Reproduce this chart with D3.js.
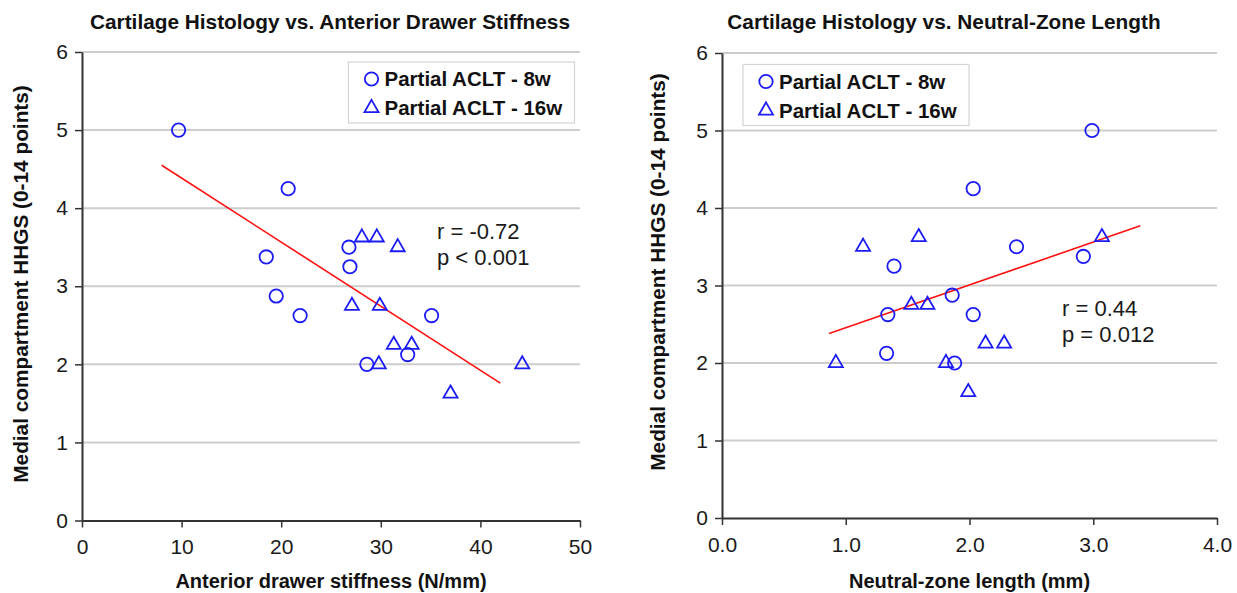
<!DOCTYPE html>
<html>
<head>
<meta charset="utf-8">
<script src="https://cdnjs.cloudflare.com/ajax/libs/d3/7.8.5/d3.min.js"></script>
<style>
  body { margin: 0; background: white; }
  text { font-family: "Liberation Sans", Arial, sans-serif; }
</style>
</head>
<body>
<div id="container"></div>
<script>
// left panel: anterior drawer stiffness (N/mm) vs HHGS
var stiff8w = [9.7, 20.7, 18.5, 26.8, 26.9, 19.5, 21.9, 35.1, 28.6, 32.7];
var hhgsStiff8w = [5.0, 4.25, 3.375, 3.5, 3.25, 2.875, 2.625, 2.625, 2.0, 2.125];
var stiff16w = [28.1, 29.6, 31.7, 27.1, 29.9, 31.3, 33.1, 29.8, 44.2, 37.0];
var hhgsStiff16w = [3.625, 3.625, 3.5, 2.75, 2.75, 2.25, 2.25, 2.0, 2.0, 1.625];
var stiffFitX = [8.0, 42.0];
var stiffFitY = [4.55, 1.76];

// right panel: neutral-zone length (mm) vs HHGS
var nz8w = [1.39, 1.34, 1.33, 1.86, 1.88, 2.99, 2.03, 2.38, 2.92, 2.03];
var hhgsNz8w = [3.25, 2.625, 2.125, 2.875, 2.0, 5.0, 4.25, 3.5, 3.375, 2.625];
var nz16w = [0.92, 1.14, 1.59, 1.53, 1.66, 1.81, 1.99, 3.07, 2.13, 2.28];
var hhgsNz16w = [2.0, 3.5, 3.625, 2.75, 2.75, 2.0, 1.625, 3.625, 2.25, 2.25];
var nzFitX = [0.865, 3.38];
var nzFitY = [2.38, 3.77];

var yTicks = [0, 1, 2, 3, 4, 5, 6];
var stiffTicks = [0, 10, 20, 30, 40, 50];
var nzTicks = [0, 1, 2, 3, 4];
var seriesNames = ['Partial ACLT - 8w', 'Partial ACLT - 16w'];
var yTitle = 'Medial compartment HHGS (0-14 points)';

var svgWidth = 1237,
    svgHeight = 593,
    blue = '#1c1cf5',
    svg = d3.select('#container').append('svg')
      .attr('width', svgWidth).attr('height', svgHeight)
      .style('background-color', 'white');

function zip(xs, ys) {
  return xs.map(function(v, i) { return { x: v, y: ys[i] }; });
}

function drawPanel(p) {
  var x = d3.scaleLinear().domain(p.xDomain).range([p.left, p.right]);
  var y = d3.scaleLinear().domain([0, 6]).range([p.bottom, p.top]);
  var g = svg.append('g');

  // gridlines
  g.selectAll('.grid').data(yTicks.slice(1)).enter().append('line')
    .attr('x1', p.left).attr('x2', p.right)
    .attr('y1', function(d) { return y(d); }).attr('y2', function(d) { return y(d); })
    .attr('stroke', '#cdcdcd').attr('stroke-width', 2);

  var xAxis = g.append('g')
    .attr('transform', 'translate(0,' + p.bottom + ')')
    .call(d3.axisBottom(x).tickValues(p.xTicks).tickFormat(p.fmt).tickSize(7).tickSizeOuter(0).tickPadding(12));
  var yAxis = g.append('g')
    .attr('transform', 'translate(' + p.left + ',0)')
    .call(d3.axisLeft(y).tickValues(yTicks).tickFormat(d3.format('d')).tickSize(7).tickSizeOuter(0).tickPadding(7));

  [xAxis, yAxis].forEach(function(a) {
    a.select('.domain').attr('stroke', '#333').attr('stroke-width', 2);
    a.selectAll('.tick line').attr('stroke', '#333').attr('stroke-width', 1.5);
    a.selectAll('.tick text').attr('fill', '#1a1a1a').style('font-size', '21px')
      .style('font-family', '"Liberation Sans", Arial, sans-serif');
  });

  // regression line
  g.append('path')
    .datum(zip(p.fitX, p.fitY))
    .attr('fill', 'none')
    .attr('stroke', '#ff1010')
    .attr('stroke-width', 1.6)
    .attr('d', d3.line().x(function(d) { return x(d.x); }).y(function(d) { return y(d.y); }));

  g.selectAll('.c8').data(zip(p.x8, p.y8)).enter().append('circle')
    .attr('cx', function(d) { return x(d.x); })
    .attr('cy', function(d) { return y(d.y); })
    .attr('r', 6.7)
    .attr('fill', 'none').attr('stroke', blue).attr('stroke-width', 1.8);

  var tri = d3.symbol().type(d3.symbolTriangle).size(85);
  g.selectAll('.t16').data(zip(p.x16, p.y16)).enter().append('path')
    .attr('d', tri)
    .attr('transform', function(d) { return 'translate(' + x(d.x) + ',' + y(d.y) + ')'; })
    .attr('fill', 'none').attr('stroke', blue).attr('stroke-width', 1.8);

  // legend
  var lg = g.append('g').attr('transform', 'translate(' + p.legend[0] + ',' + p.legend[1] + ')');
  lg.append('rect').attr('width', 226).attr('height', 61)
    .attr('fill', 'white').attr('stroke', '#d4d4d4').attr('stroke-width', 1.2);
  lg.append('circle').attr('cx', 23).attr('cy', 17).attr('r', 6.7)
    .attr('fill', 'none').attr('stroke', blue).attr('stroke-width', 1.8);
  lg.append('path').attr('d', tri).attr('transform', 'translate(23,46)')
    .attr('fill', 'none').attr('stroke', blue).attr('stroke-width', 1.8);
  lg.selectAll('.lt').data(seriesNames).enter().append('text')
    .attr('x', 36).attr('y', function(d, i) { return 24 + i * 29; })
    .attr('font-weight', 'bold').attr('font-size', 20.5).attr('fill', '#111')
    .text(function(d) { return d; });

  // statistics
  g.selectAll('.st').data(p.stats).enter().append('text')
    .attr('x', p.statPos[0]).attr('y', function(d, i) { return p.statPos[1] + i * 26; })
    .attr('font-size', 22).attr('fill', '#1a1a1a')
    .text(function(d) { return d; });

  // titles
  g.append('text').attr('x', p.titleX).attr('y', 29)
    .attr('text-anchor', 'middle').attr('font-weight', 'bold').attr('font-size', 20.8).attr('fill', '#111')
    .text(p.title);
  g.append('text').attr('x', (p.left + p.right) / 2).attr('y', 588)
    .attr('text-anchor', 'middle').attr('font-weight', 'bold').attr('font-size', 20).attr('fill', '#111')
    .text(p.xTitle);
  g.append('text')
    .attr('transform', 'translate(' + p.yTitleX + ',' + p.yTitleY + ') rotate(-90)')
    .attr('text-anchor', 'middle').attr('font-weight', 'bold').attr('font-size', 20.8).attr('fill', '#111')
    .text(yTitle);
}

drawPanel({
  left: 82, right: 580, top: 52, bottom: 520.5,
  xDomain: [0, 50], xTicks: stiffTicks, fmt: d3.format('d'),
  x8: stiff8w, y8: hhgsStiff8w, x16: stiff16w, y16: hhgsStiff16w,
  fitX: stiffFitX, fitY: stiffFitY,
  legend: [348.5, 62], stats: ['r = -0.72', 'p < 0.001'], statPos: [437, 239],
  title: 'Cartilage Histology vs. Anterior Drawer Stiffness', titleX: 330,
  xTitle: 'Anterior drawer stiffness (N/mm)', yTitleX: 28, yTitleY: 284
});

drawPanel({
  left: 722, right: 1217, top: 53, bottom: 518,
  xDomain: [0, 4], xTicks: nzTicks, fmt: d3.format('.1f'),
  x8: nz8w, y8: hhgsNz8w, x16: nz16w, y16: hhgsNz16w,
  fitX: nzFitX, fitY: nzFitY,
  legend: [743, 64.5], stats: ['r = 0.44', 'p = 0.012'], statPos: [1062, 316],
  title: 'Cartilage Histology vs. Neutral-Zone Length', titleX: 944,
  xTitle: 'Neutral-zone length (mm)', yTitleX: 665, yTitleY: 272
});
</script>
</body>
</html>
